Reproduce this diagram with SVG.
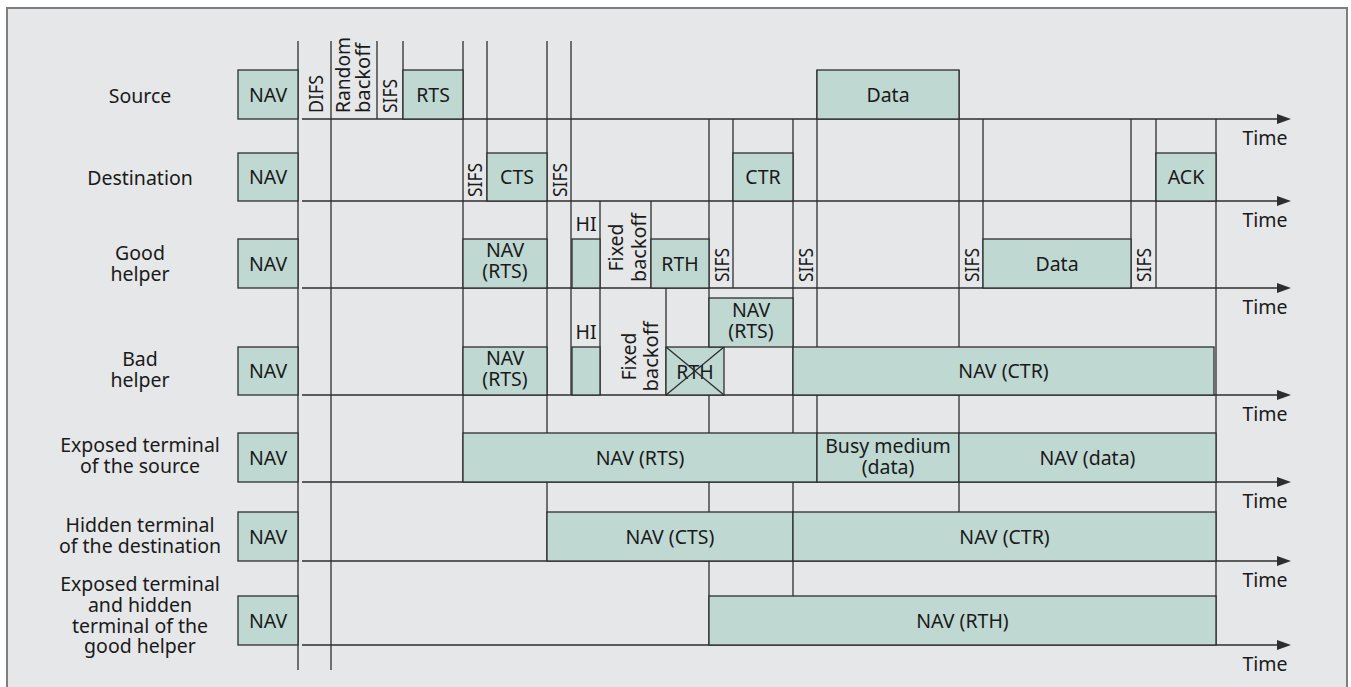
<svg xmlns="http://www.w3.org/2000/svg" width="1351" height="687" viewBox="0 0 1351 687">
<defs>
<style>
.frame{fill:#e6e7e8;stroke:#7f7f7f;stroke-width:2}
.box{fill:#bfd8d2;stroke:#2e2e2e;stroke-width:1.3}
.ln{stroke:#2e2e2e;stroke-width:1.3;fill:none}
.ax{stroke:#2e2e2e;stroke-width:1.5;fill:none;marker-end:url(#arr)}
.t{font-family:"Noto Sans","Liberation Sans",sans-serif;font-size:19.5px;fill:#1a1a1a;text-anchor:middle}
.v{font-family:"Noto Sans","Liberation Sans",sans-serif;font-size:19.5px;fill:#1a1a1a;text-anchor:start}
.vm{font-family:"Noto Sans","Liberation Sans",sans-serif;font-size:19.5px;fill:#1a1a1a;text-anchor:middle}
</style>
<marker id="arr" markerUnits="userSpaceOnUse" markerWidth="14" markerHeight="10" refX="0" refY="5" orient="auto">
<path d="M0,0 L14,5 L0,10 z" fill="#2e2e2e"/>
</marker>
</defs>
<rect x="0" y="0" width="1351" height="687" fill="#ffffff"/>
<rect class="frame" x="7" y="8" width="1340" height="700"/>

<g id="connectors">
<line class="ln" x1="298" y1="41" x2="298" y2="670"/>
<line class="ln" x1="331" y1="41" x2="331" y2="670"/>
<line class="ln" x1="377" y1="41" x2="377" y2="119"/>
<line class="ln" x1="403" y1="41" x2="403" y2="119"/>
<line class="ln" x1="463" y1="41" x2="463" y2="482"/>
<line class="ln" x1="487" y1="41" x2="487" y2="201"/>
<line class="ln" x1="547" y1="41" x2="547" y2="561"/>
<line class="ln" x1="571" y1="41" x2="571" y2="395"/>
<line class="ln" x1="600" y1="201" x2="600" y2="395"/>
<line class="ln" x1="651" y1="201" x2="651" y2="288"/>
<line class="ln" x1="666" y1="288" x2="666" y2="395"/>
<line class="ln" x1="709" y1="119" x2="709" y2="645"/>
<line class="ln" x1="733" y1="119" x2="733" y2="288"/>
<line class="ln" x1="793" y1="119" x2="793" y2="596"/>
<line class="ln" x1="817" y1="70" x2="817" y2="482"/>
<line class="ln" x1="959" y1="70" x2="959" y2="512"/>
<line class="ln" x1="983" y1="119" x2="983" y2="288"/>
<line class="ln" x1="1131" y1="119" x2="1131" y2="288"/>
<line class="ln" x1="1156" y1="119" x2="1156" y2="288"/>
<line class="ln" x1="1216" y1="119" x2="1216" y2="645"/>
<line class="ax" x1="302" y1="119" x2="1277" y2="119"/>
<line class="ax" x1="302" y1="201" x2="1277" y2="201"/>
<line class="ax" x1="302" y1="288" x2="1277" y2="288"/>
<line class="ax" x1="302" y1="395" x2="1277" y2="395"/>
<line class="ax" x1="302" y1="482" x2="1277" y2="482"/>
<line class="ax" x1="302" y1="561" x2="1277" y2="561"/>
<line class="ax" x1="302" y1="645" x2="1277" y2="645"/>
<text class="t" x="1265" y="145">Time</text>
<text class="t" x="1265" y="227">Time</text>
<text class="t" x="1265" y="314">Time</text>
<text class="t" x="1265" y="421">Time</text>
<text class="t" x="1265" y="508">Time</text>
<text class="t" x="1265" y="587">Time</text>
<text class="t" x="1265" y="671">Time</text>
</g>

<g id="labels">
<text class="t" x="140" y="103">Source</text>
<text class="t" x="140" y="185">Destination</text>
<text class="t" x="140" y="260">Good</text>
<text class="t" x="140" y="281">helper</text>
<text class="t" x="140" y="366">Bad</text>
<text class="t" x="140" y="387">helper</text>
<text class="t" x="140" y="452">Exposed terminal</text>
<text class="t" x="140" y="473">of the source</text>
<text class="t" x="140" y="531.5">Hidden terminal</text>
<text class="t" x="140" y="552.5">of the destination</text>
<text class="t" x="140" y="591">Exposed terminal</text>
<text class="t" x="140" y="612">and hidden</text>
<text class="t" x="140" y="633">terminal of the</text>
<text class="t" x="140" y="653">good helper</text>
</g>

<g id="row-source">
<rect class="box" x="238" y="70" width="60" height="49"/><text class="t" x="268" y="101.5">NAV</text>
<text class="v" transform="translate(323,113) rotate(-90)" textLength="38" lengthAdjust="spacingAndGlyphs">DIFS</text>
<text class="v" transform="translate(350,113) rotate(-90)" textLength="76" lengthAdjust="spacingAndGlyphs">Random</text>
<text class="v" transform="translate(370,113) rotate(-90)" textLength="70" lengthAdjust="spacingAndGlyphs">backoff</text>
<text class="v" transform="translate(397,113) rotate(-90)" textLength="34" lengthAdjust="spacingAndGlyphs">SIFS</text>
<rect class="box" x="403" y="70" width="60" height="49"/><text class="t" x="433" y="101.5">RTS</text>
<rect class="box" x="817" y="70" width="142" height="49"/><text class="t" x="888" y="101.5">Data</text>
</g>

<g id="row-destination">
<rect class="box" x="238" y="153" width="60" height="48"/><text class="t" x="268" y="184">NAV</text>
<text class="v" transform="translate(482,197) rotate(-90)" textLength="34" lengthAdjust="spacingAndGlyphs">SIFS</text>
<rect class="box" x="487" y="153" width="60" height="48"/><text class="t" x="517" y="184">CTS</text>
<text class="v" transform="translate(567,197) rotate(-90)" textLength="34" lengthAdjust="spacingAndGlyphs">SIFS</text>
<rect class="box" x="733" y="153" width="60" height="48"/><text class="t" x="763" y="184">CTR</text>
<rect class="box" x="1156" y="153" width="60" height="48"/><text class="t" x="1186" y="184">ACK</text>
</g>

<g id="row-good-helper">
<rect class="box" x="238" y="239" width="60" height="49"/><text class="t" x="268" y="270.5">NAV</text>
<rect class="box" x="463" y="239" width="84" height="49"/><text class="t" x="505" y="257">NAV</text><text class="t" x="505" y="278">(RTS)</text>
<text class="t" x="586" y="230.5">HI</text>
<rect class="box" x="572" y="239" width="28" height="49"/>
<text class="vm" transform="translate(623,247.5) rotate(-90)" textLength="48" lengthAdjust="spacingAndGlyphs">Fixed</text>
<text class="vm" transform="translate(646,247.5) rotate(-90)" textLength="69" lengthAdjust="spacingAndGlyphs">backoff</text>
<rect class="box" x="651" y="239" width="58" height="49"/><text class="t" x="680" y="270.5">RTH</text>
<text class="v" transform="translate(729,282) rotate(-90)" textLength="34" lengthAdjust="spacingAndGlyphs">SIFS</text>
<text class="v" transform="translate(813,282) rotate(-90)" textLength="34" lengthAdjust="spacingAndGlyphs">SIFS</text>
<text class="v" transform="translate(979,282) rotate(-90)" textLength="34" lengthAdjust="spacingAndGlyphs">SIFS</text>
<rect class="box" x="983" y="239" width="148" height="49"/><text class="t" x="1057" y="270.5">Data</text>
<text class="v" transform="translate(1151,282) rotate(-90)" textLength="34" lengthAdjust="spacingAndGlyphs">SIFS</text>
</g>

<g id="row-bad-helper">
<rect class="box" x="238" y="347" width="60" height="48"/><text class="t" x="268" y="378">NAV</text>
<rect class="box" x="463" y="347" width="84" height="48"/><text class="t" x="505" y="365">NAV</text><text class="t" x="505" y="386">(RTS)</text>
<text class="t" x="586" y="339">HI</text>
<rect class="box" x="572" y="347" width="28" height="48"/>
<text class="vm" transform="translate(636,356.5) rotate(-90)" textLength="48" lengthAdjust="spacingAndGlyphs">Fixed</text>
<text class="vm" transform="translate(658,356.5) rotate(-90)" textLength="70" lengthAdjust="spacingAndGlyphs">backoff</text>
<rect class="box" x="666" y="347" width="58" height="48"/><text class="t" x="695" y="378.5">RTH</text>
<line class="ln" x1="666" y1="347" x2="724" y2="395"/><line class="ln" x1="666" y1="395" x2="724" y2="347"/>
<rect class="box" x="709" y="298" width="84" height="49"/><text class="t" x="751" y="317">NAV</text><text class="t" x="751" y="338">(RTS)</text>
<rect class="box" x="793" y="347" width="421" height="48"/><text class="t" x="1003.5" y="378">NAV (CTR)</text>
</g>

<g id="row-exposed-source">
<rect class="box" x="238" y="433" width="60" height="49"/><text class="t" x="268" y="464.5">NAV</text>
<rect class="box" x="463" y="433" width="354" height="49"/><text class="t" x="640" y="464.5">NAV (RTS)</text>
<rect class="box" x="817" y="433" width="142" height="49"/><text class="t" x="888" y="453">Busy medium</text><text class="t" x="888" y="474">(data)</text>
<rect class="box" x="959" y="433" width="257" height="49"/><text class="t" x="1087.5" y="464.5">NAV (data)</text>
</g>

<g id="row-hidden-destination">
<rect class="box" x="238" y="512" width="60" height="49"/><text class="t" x="268" y="543.5">NAV</text>
<rect class="box" x="547" y="512" width="246" height="49"/><text class="t" x="670" y="543.5">NAV (CTS)</text>
<rect class="box" x="793" y="512" width="423" height="49"/><text class="t" x="1004.5" y="543.5">NAV (CTR)</text>
</g>

<g id="row-good-helper-terminals">
<rect class="box" x="238" y="596" width="60" height="49"/><text class="t" x="268" y="627.5">NAV</text>
<rect class="box" x="709" y="596" width="507" height="49"/><text class="t" x="962.5" y="627.5">NAV (RTH)</text>
</g>
</svg>
